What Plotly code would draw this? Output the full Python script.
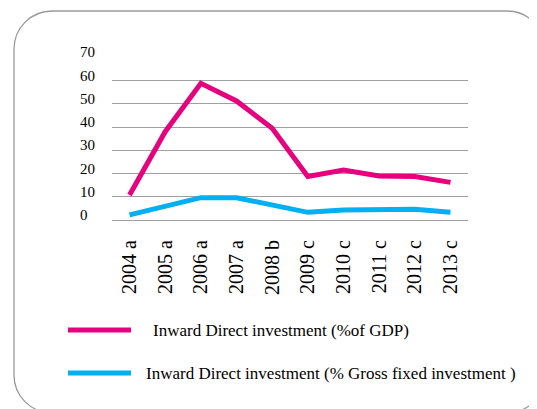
import plotly.graph_objects as go

categories = ["2004 a", "2005 a", "2006 a", "2007 a", "2008 b",
              "2009 c", "2010 c", "2011 c", "2012 c", "2013 c"]
fdi_gdp = [10.8, 38.0, 58.8, 51.2, 39.5, 18.7, 21.5, 18.9, 18.7, 16.2]
fdi_gfi = [2.2, 5.7, 9.6, 9.6, 6.5, 3.3, 4.3, 4.3, 4.6, 3.3]
y_ticks = [0, 10, 20, 30, 40, 50, 60, 70]
series_names = ["Inward Direct investment (%of GDP)",
                "Inward Direct investment (% Gross fixed investment )"]
series_colors = ["#E6007E", "#00B0F0"]

W, H = 537, 409
OFF = 8  # page body margin
FONT = "Liberation Serif, Times New Roman, serif"

def px(x):
    return (x - OFF) / W

def py(y):
    return 1 - (y - OFF) / H

fig = go.Figure()
for vals, name, col in zip([fdi_gdp, fdi_gfi], series_names, series_colors):
    fig.add_trace(go.Scatter(x=categories, y=vals, mode="lines", name=name,
                             line=dict(color=col, width=5), showlegend=False))

# y tick labels (left-aligned, sitting slightly above the gridlines)
for v in y_ticks:
    fig.add_annotation(xref="paper", yref="y", x=px(77.5), y=v, yshift=5,
                       text=str(v), showarrow=False, xanchor="left", yanchor="middle",
                       font=dict(family=FONT, size=15, color="#000000"))

# manual legend
legend_y = [330, 373]
text_x = [151, 144]
for name, col, ly, tx in zip(series_names, series_colors, legend_y, text_x):
    fig.add_shape(type="line", xref="paper", yref="paper",
                  x0=px(68), x1=px(131), y0=py(ly), y1=py(ly),
                  line=dict(color=col, width=5))
    fig.add_annotation(xref="paper", yref="paper", x=px(tx), y=py(ly),
                       text=name, showarrow=False, xanchor="left", yanchor="middle",
                       font=dict(family=FONT, size=17, color="#000000"))

# rounded border
L, T, R, B, r = 14, 11, 545, 413, 38
k = 0.5523 * r
pts = [
    ("M", [(L + r, T)]),
    ("L", [(R - r, T)]),
    ("C", [(R - r + k, T), (R, T + r - k), (R, T + r)]),
    ("L", [(R, B - r)]),
    ("C", [(R, B - r + k), (R - r + k, B), (R - r, B)]),
    ("L", [(L + r, B)]),
    ("C", [(L + r - k, B), (L, B - r + k), (L, B - r)]),
    ("L", [(L, T + r)]),
    ("C", [(L, T + r - k), (L + r - k, T), (L + r, T)]),
]
path = ""
for cmd, ps in pts:
    path += cmd + " ".join(f"{px(x):.5f},{py(y):.5f}" for x, y in ps) + " "
path += "Z"
fig.add_shape(type="path", xref="paper", yref="paper", path=path,
              line=dict(color="#9A9A9A", width=1.3), fillcolor="rgba(0,0,0,0)")

fig.update_layout(
    width=W, height=H,
    margin=dict(l=0, r=0, t=0, b=0),
    paper_bgcolor="white", plot_bgcolor="white",
    font=dict(family=FONT, color="#000000"),
    xaxis=dict(domain=[px(111.7), px(468.3)], type="category",
               range=[-0.5, 9.5], showgrid=False, showline=False, zeroline=False,
               tickangle=-90, tickfont=dict(family=FONT, size=20, color="#000000"),
               ticks="", ticklabelstandoff=15, automargin=False),
    yaxis=dict(domain=[py(220), py(57.3)], range=[0, 70], tickvals=y_ticks,
               showgrid=True, gridcolor="#A0A0A0", gridwidth=1.2,
               zeroline=True, zerolinecolor="#A0A0A0", zerolinewidth=1.2,
               showline=False, ticks="", showticklabels=False, automargin=False),
)

fig.write_html("out.html")
